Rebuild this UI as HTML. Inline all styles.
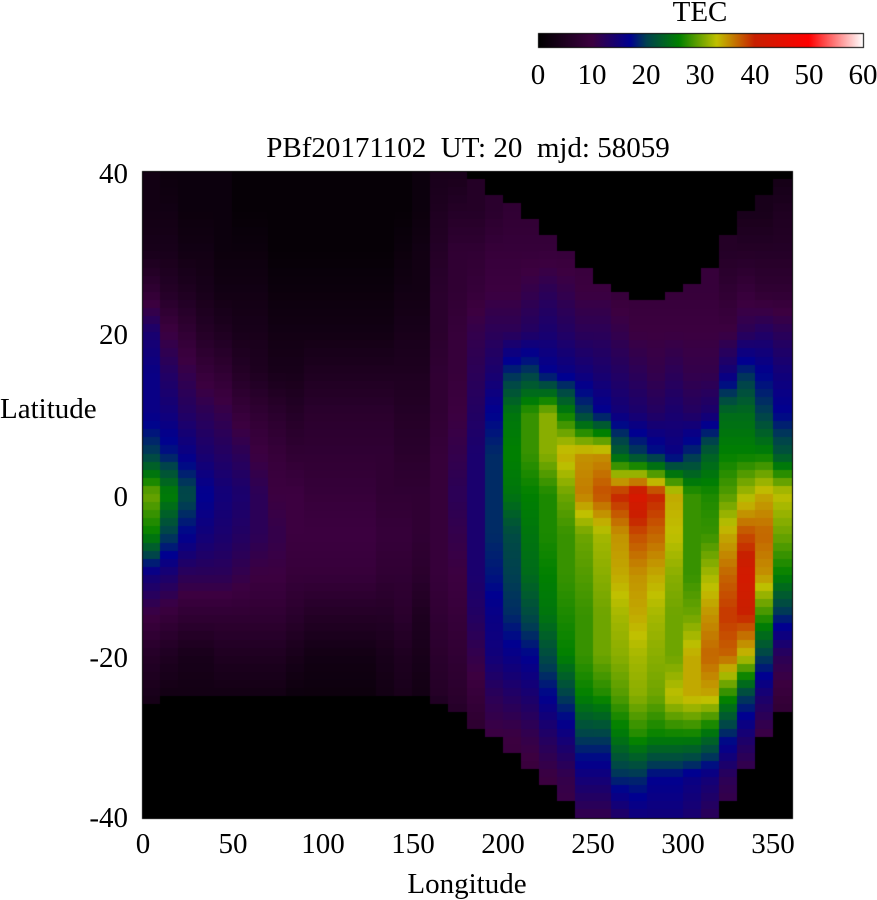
<!DOCTYPE html>
<html><head><meta charset="utf-8"><style>
html,body{margin:0;padding:0;background:#fff;width:877px;height:900px;overflow:hidden}
.t{position:absolute;font-family:"Liberation Serif",serif;font-size:29px;color:#000;white-space:nowrap;line-height:30px;height:30px}
.c{width:200px;text-align:center;margin-left:-100px}
.r{width:200px;text-align:right}
canvas{position:absolute;left:0;top:0}
</style></head><body>
<canvas id="c" width="877" height="900"></canvas>
<div class="t c" style="left:700px;top:-3px">TEC</div>
<div class="t c" style="left:538px;top:60px">0</div>
<div class="t c" style="left:592px;top:60px">10</div>
<div class="t c" style="left:646px;top:60px">20</div>
<div class="t c" style="left:700px;top:60px">30</div>
<div class="t c" style="left:755px;top:60px">40</div>
<div class="t c" style="left:809px;top:60px">50</div>
<div class="t c" style="left:863px;top:60px">60</div>
<div class="t c" style="left:468px;top:133px;width:600px;margin-left:-300px">PBf20171102&nbsp; UT: 20&nbsp; mjd: 58059</div>
<div class="t r" style="left:-72px;top:159px">40</div>
<div class="t r" style="left:-72px;top:320px">20</div>
<div class="t r" style="left:-72px;top:482px">0</div>
<div class="t r" style="left:-72px;top:643px">-20</div>
<div class="t r" style="left:-72px;top:803px">-40</div>
<div class="t" style="left:0px;top:394px">Latitude</div>
<div class="t c" style="left:143px;top:829px">0</div>
<div class="t c" style="left:233px;top:829px">50</div>
<div class="t c" style="left:323px;top:829px">100</div>
<div class="t c" style="left:413px;top:829px">150</div>
<div class="t c" style="left:503px;top:829px">200</div>
<div class="t c" style="left:593px;top:829px">250</div>
<div class="t c" style="left:683px;top:829px">300</div>
<div class="t c" style="left:773px;top:829px">350</div>
<div class="t c" style="left:467px;top:869px">Longitude</div>
<script>
var stops=[[0,[0,0,0]],[10,[60,0,64]],[17,[0,0,144]],[20,[0,64,80]],[26,[0,128,0]],[33,[192,192,0]],[40,[200,32,0]],[50,[255,0,0]],[60,[255,255,255]]];
function col(v){if(v<=0)return'rgb(0,0,0)';if(v>=60)v=60;for(var i=1;i<stops.length;i++){if(v<=stops[i][0]){var a=stops[i-1],b=stops[i],t=(v-a[0])/(b[0]-a[0]);var c=[0,1,2].map(function(k){return Math.round(a[1][k]+(b[1][k]-a[1][k])*t)});return'rgb('+c.join(',')+')';}}return'#fff';}
var L=[
[3,3,4,8,14,16,16,20,30,26,15,10,6,4,0,0,0],
[2,3,4,6,10,13,15,18,26,20,14,9,5,3,0,0,0],
[2,2,3,5,8,11,13,16,21,17,12,8,4,3,0,0,0],
[2,2,3,4,6,9,12,14,17,15,12,8,4,3,0,0,0],
[2,2,2,3,5,8,11,13,15,14,12,8,5,3,0,0,0],
[1,1,2,3,4,6,9,12,14,13,11,8,5,3,0,0,0],
[1,1,2,3,4,5,8,10,12,12,10,8,5,3,0,0,0],
[1,1,1,2,3,4,7,9,10,11,10,8,5,3,0,0,0],
[1,1,1,2,3,4,6,8,10,10,9,7,4,2,0,0,0],
[1,1,1,2,3,5,7,8,9,10,9,6,3,2,0,0,0],
[1,1,1,2,3,5,7,8,9,10,9,6,3,2,0,0,0],
[1,1,1,2,3,5,7,8,9,10,9,6,3,2,0,0,0],
[1,1,1,2,3,5,7,8,9,10,9,6,3,2,0,0,0],
[1,1,1,2,3,5,7,8,8,9,8,6,4,3,0,0,0],
[1,1,2,3,4,5,6,7,8,9,8,7,5,4,0,0,0],
[2,2,3,3,4,5,6,7,8,8,7,5,4,3,0,0,0],
[4,5,6,7,7,8,8,9,9,9,9,8,7,6,0,0,0],
[4,6,8,8,9,9,10,11,12,11,10,9,8,7,5,0,0],
[6,6,8,9,11,12,13,14,14,14,14,13,11,9,7,0,0],
[7,7,9,10,12,14,17,19,19,19,18,16,15,12,10,0,0],
[8,8,9,10,12,19,25,26,25,21,20,19,16,13,10,9,0],
[8,8,9,11,13,20,28,28,26,25,24,21,17,14,11,9,0],
[8,8,9,12,14,17,31,31,27,27,26,25,21,17,13,10,9],
[8,8,9,11,13,16,26,34,30,28,28,27,26,20,15,11,10],
[8,8,9,10,12,15,20,35,36,30,29,28,28,26,20,15,11],
[8,8,9,10,12,14,17,35,38,32,31,30,30,27,20,15,11],
[8,8,9,9,11,13,15,23,40,35,34,32,31,29,25,19,13],
[8,8,9,9,10,12,14,20,43,38,35,34,32,31,27,19,15],
[8,8,9,9,10,11,13,18,40,37,34,32,31,30,26,17,15],
[8,8,9,9,10,12,14,16,34,33,31,30,30,33,26,17,15],
[8,8,9,9,10,11,13,19,28,28,28,30,34,34,26,16,14],
[8,8,9,9,10,11,14,23,27,28,32,35,37,34,24,15,12],
[6,6,6,8,10,15,24,26,29,34,37,39,37,27,18,12,10],
[4,4,6,9,12,19,24,26,32,38,42,40,33,20,14,10,8],
[4,4,6,8,13,17,20,26,34,37,35,28,20,14,10,8,6],
[3,5,6,8,12,15,17,22,33,30,26,19,12,9,7,5,4]];
var tp=[99,99,99,99,99,99,99,99,99,99,99,99,99,99,99,99,99,99,39,37,36,34,32,30,28,26,25,24,24,25,26,28,32,35,37,39];
var bt=[-26,-25,-25,-25,-25,-25,-25,-25,-25,-25,-25,-25,-25,-25,-25,-25,-26,-27,-29,-30,-32,-34,-36,-38,-40,-40,-40,-40,-40,-40,-40,-40,-38,-34,-30,-27];
var cv=document.getElementById('c'),g=cv.getContext('2d');
var X0=142,X1=792,Y0=171,Y1=818;
var cw=(X1-X0)/36,rh=(Y1-Y0)/80;
for(var c=0;c<36;c++){for(var r=0;r<80;r++){var lt=40-r,lb=39-r,lat=39.5-r;var v;
if(lt>tp[c]||lb<bt[c])v=0;else{var p=(40-lat)/5,i=Math.floor(p),f=p-i;if(i>=16){i=15;f=1;}v=L[c][i]*(1-f)+L[c][i+1]*f;if(v<0.5)v=0.5;}
g.fillStyle=col(v);g.fillRect(Math.floor(X0+c*cw),Math.floor(Y0+r*rh),Math.ceil(cw)+1,Math.ceil(rh)+1);}}
g.fillStyle='#fff';g.fillRect(X1+1,Y0-2,30,Y1-Y0+4);g.fillRect(X0-2,Y1+1,X1-X0+4,10);
g.strokeStyle='#000';g.lineWidth=1;g.strokeRect(X0+.5,Y0+.5,X1-X0,Y1-Y0);
var gr=g.createLinearGradient(538,0,863,0);for(var s=0;s<stops.length;s++){var k=stops[s];gr.addColorStop(k[0]/60,'rgb('+k[1].join(',')+')');}
g.fillStyle=gr;g.fillRect(538,33,325,14);g.strokeRect(538.5,33.5,325,14);
</script>
</body></html>
